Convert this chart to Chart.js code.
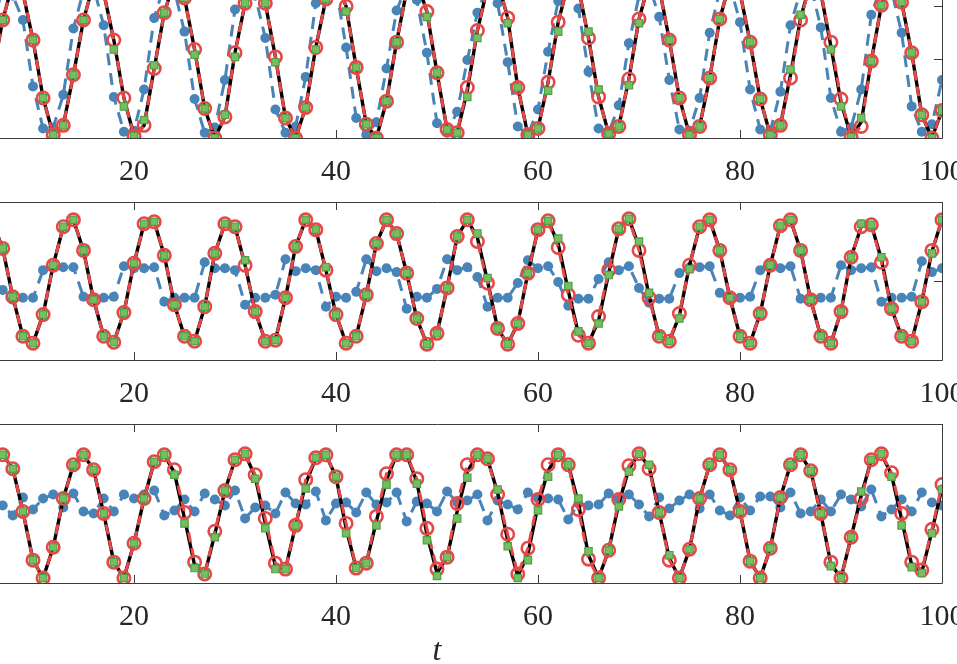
<!DOCTYPE html>
<html><head><meta charset="utf-8">
<script src="https://cdn.jsdelivr.net/npm/chart.js@4"></script>
<style>
html,body{margin:0;padding:0;width:957px;height:664px;overflow:hidden;background:#fff;}
body{position:relative;}
canvas{position:absolute;}
</style></head>
<body>
<canvas id="c1" width="1100" height="208" style="left:-68px;top:-20px"></canvas>
<canvas id="c2" width="1100" height="208" style="left:-68px;top:202px"></canvas>
<canvas id="c3" width="1100" height="240" style="left:-68px;top:424px"></canvas>
<script>
// time samples start at t = 6 and step by 1 up to t = 100
const tStart = 6;
const xTickValues = [20, 40, 60, 80, 100];
const xLabel = 't';

// ---- panel 1 ----
const p1Black = [-1.5,3.7,7.2,6.3,1.8,-3.7,-7.2,-6.3,-1.5,3.7,
 7.2,6.3,1.8,-3.7,-7.3,-6.3,-0.9,4.4,7.4,5.8,
 0.9,-4.7,-7.5,-5.5,0.6,5.3,7.5,5.3,0.2,-5.6,
 -7.5,-4.6,1.1,5.7,7.5,5.0,-0.8,-6.2,-7.5,-4.0,
 1.6,6.5,7.4,4.5,-1.3,-6.7,-7.0,-3.0,2.7,6.8,
 7.4,3.9,-2.7,-7.2,-6.6,-2.2,3.5,7.2,6.8,2.0,
 -3.6,-7.1,-6.4,-1.9,3.8,7.2,6.8,1.8,-3.7,-7.2,
 -6.4,-1.8,3.8,7.3,6.3,1.6,-3.8,-7.2,-6.3,-1.5,
 3.9,7.3,6.3,1.2,-4.1,-7.4,-6.0,-0.2,5.1,7.5,
 5.4,0.6,-5.3,-7.5,-4.9];
const p1Red = [-1.5,3.7,7.2,6.3,1.8,-3.7,-7.2,-6.3,-1.5,3.7,
 7.2,6.3,1.8,-3.7,-7.3,-6.3,-0.9,4.4,7.4,5.8,
 0.9,-4.7,-7.5,-5.5,0.6,5.3,7.5,5.3,0.2,-5.6,
 -7.5,-4.6,1.1,5.7,7.5,5.0,-0.8,-6.2,-7.5,-4.0,
 1.6,6.5,7.4,4.5,-1.3,-6.7,-7.0,-2.7,2.7,6.8,
 7.4,3.9,-2.7,-7.2,-6.6,-2.2,3.5,7.2,6.8,2.0,
 -3.6,-7.1,-6.4,-1.9,3.8,7.2,6.8,1.8,-3.7,-7.2,
 -6.4,-1.8,3.8,7.3,6.3,1.6,-3.8,-7.2,-6.3,-1.8,
 3.7,7.3,6.3,1.6,-3.8,-7.4,-6.4,-0.2,5.1,7.5,
 5.4,0.6,-5.3,-7.5,-4.9];
const p1Green = [-1.5,3.7,7.2,6.3,1.8,-3.7,-7.2,-6.3,-1.5,3.7,
 7.2,6.3,0.9,-4.5,-7.3,-5.8,-0.6,4.4,7.4,5.8,
 0.4,-4.7,-7.5,-5.3,0.2,5.3,7.5,5.3,-0.3,-5.6,
 -7.5,-4.6,0.9,5.7,7.5,4.5,-0.8,-6.2,-7.5,-4.0,
 1.6,6.5,7.4,4.0,-1.3,-6.7,-7.0,-3.6,2.0,6.8,
 7.4,3.4,-2.7,-7.2,-6.6,-3.0,2.6,7.2,6.8,2.6,
 -2.9,-7.1,-6.4,-2.5,3.4,7.2,6.8,1.8,-3.7,-7.2,
 -6.4,-1.8,3.8,7.3,6.3,1.6,-3.8,-7.2,-6.3,-1.0,
 4.2,7.3,6.3,0.9,-4.5,-7.4,-5.6,-0.2,5.1,7.5,
 5.4,0.6,-5.3,-7.5,-4.9];
const p1Blue = [3.0,6.8,6.0,3.7,-2.6,-6.6,-6.5,-3.4,2.9,6.5,
 6.8,3.2,-3.6,-6.9,-6.8,-2.9,3.9,7.0,6.5,2.6,
 -3.8,-7.0,-6.5,-2.0,4.7,7.0,6.0,2.0,-4.8,-7.0,
 -6.4,-1.7,5.3,7.2,6.8,1.1,-5.6,-7.2,-6.0,-0.9,
 4.6,7.0,5.6,0.6,-6.1,-7.0,-5.0,-0.1,4.4,7.0,
 5.3,-0.3,-6.4,-7.2,-4.8,0.7,5.5,7.2,4.8,-1.2,
 -6.6,-7.0,-4.4,1.5,6.0,7.0,4.0,-2.0,-6.7,-6.8,
 -3.7,2.5,6.5,7.0,3.5,-2.9,-6.7,-6.8,-3.1,3.2,
 6.5,7.0,3.0,-3.7,-6.9,-6.5,-2.9,4.2,7.0,6.5,
 2.5,-4.5,-6.9,-6.2,-2.0];
const p1YTicks = [-5, 0, 5];

// ---- panel 2 ----
const p2Black = [6.0,3.3,-1.6,-5.6,-6.3,-3.4,1.6,5.5,6.2,3.1,
 -1.9,-5.6,-6.2,-3.2,1.8,5.8,6.0,2.6,-2.4,-5.6,
 -6.1,-2.6,2.8,5.8,5.5,1.6,-3.1,-6.1,-6.0,-1.7,
 3.5,6.2,5.2,1.1,-3.4,-6.3,-5.6,-1.4,3.8,6.2,
 4.8,0.8,-3.8,-6.4,-5.3,-0.7,4.5,6.2,4.4,0.0,
 -4.8,-6.4,-4.3,0.8,5.2,6.1,3.8,-1.0,-5.3,-6.3,
 -4.0,0.8,5.3,6.3,3.5,-1.5,-5.6,-6.1,-3.5,1.6,
 5.5,6.2,3.1,-1.7,-5.6,-6.3,-3.3,1.6,5.6,6.2,
 3.1,-1.9,-5.6,-6.3,-3.1,2.4,5.5,5.7,2.2,-2.8,
 -5.6,-6.1,-2.1,3.0,6.2];
const p2Red = [6.0,3.3,-1.6,-5.6,-6.3,-3.4,1.6,5.5,6.2,3.1,
 -1.9,-5.6,-6.2,-3.2,1.8,5.8,6.0,2.6,-2.4,-5.6,
 -6.1,-2.6,2.8,5.8,5.5,1.6,-3.1,-6.1,-6.0,-1.7,
 3.5,6.2,5.2,1.1,-3.4,-6.3,-5.6,-1.4,3.8,6.2,
 4.8,0.8,-3.8,-6.4,-5.3,-0.7,4.5,6.2,4.0,-0.2,
 -4.8,-6.4,-4.3,0.8,5.2,6.1,3.4,-1.4,-5.5,-6.3,
 -3.6,1.1,5.3,6.3,3.1,-1.7,-5.6,-6.1,-3.3,1.6,
 5.5,6.2,3.1,-1.7,-5.6,-6.3,-3.3,1.6,5.6,6.2,
 3.1,-1.9,-5.6,-6.3,-3.1,2.4,5.5,5.7,1.9,-2.8,
 -5.6,-6.1,-2.1,3.1,6.2];
const p2Green = [6.0,3.3,-1.6,-5.6,-6.3,-3.4,1.6,5.5,6.2,3.1,
 -1.9,-5.6,-6.2,-3.2,1.8,5.8,6.0,2.6,-2.4,-5.6,
 -6.1,-2.6,2.8,5.8,5.5,2.1,-3.1,-6.1,-6.0,-1.7,
 3.5,6.2,5.2,1.4,-3.4,-6.3,-5.6,-1.4,3.8,6.2,
 4.8,0.8,-3.8,-6.4,-5.3,-0.7,4.5,6.2,4.8,0.3,
 -4.8,-6.4,-4.3,0.8,5.2,6.1,4.3,-0.5,-5.1,-6.3,
 -4.3,0.6,5.3,6.3,4.0,-1.2,-5.6,-6.1,-3.8,1.2,
 5.5,6.2,3.1,-1.7,-5.6,-6.3,-3.3,1.6,5.6,6.2,
 3.1,-1.9,-5.6,-6.3,-3.1,2.4,5.8,5.7,2.4,-2.8,
 -5.6,-6.1,-2.1,2.8,6.2];
const p2Blue = [-1.0,-0.9,-1.9,-1.7,-1.7,1.1,1.4,1.4,1.4,-1.6,
 -1.7,-1.7,-1.6,1.5,1.3,1.3,1.4,-2.1,-1.7,-1.7,
 -1.7,1.9,1.3,1.3,1.1,-2.4,-1.7,-1.7,-1.4,2.2,
 1.0,1.3,1.1,-2.6,-1.6,-1.7,-1.1,2.2,1.0,1.3,
 0.9,-2.8,-1.6,-1.7,-0.8,2.2,1.1,1.4,0.4,-2.6,
 -1.7,-1.7,-0.2,2.1,1.3,1.5,-0.1,-2.5,-1.8,-1.8,
 0.2,1.9,1.1,1.5,-0.7,-2.2,-1.8,-1.8,0.8,1.4,
 1.4,1.5,-1.2,-1.7,-1.7,-1.6,1.1,1.6,1.3,1.5,
 -1.8,-1.7,-1.7,-1.7,1.6,1.1,1.3,1.4,-2.1,-1.7,
 -1.7,-1.6,2.0,0.9,1.3];
const p2YTicks = [0];

// ---- panel 3 ----
const p3Black = [3.8,4.9,3.5,-0.8,-5.7,-7.5,-4.4,0.5,3.9,4.9,
 3.4,-1.0,-5.9,-7.5,-4.0,0.5,4.2,4.9,3.1,-1.5,
 -6.2,-7.1,-3.1,1.3,4.4,5.0,2.7,-2.0,-6.3,-6.6,
 -2.2,2.0,4.6,4.9,2.7,-2.5,-6.5,-6.0,-1.8,2.4,
 4.9,4.9,2.2,-3.1,-7.0,-5.4,-0.8,3.2,4.9,4.5,
 1.1,-3.7,-7.3,-5.1,-0.2,3.3,4.9,3.9,0.0,-5.2,
 -7.5,-4.7,0.0,3.5,5.0,3.7,-0.9,-5.5,-7.5,-4.6,
 0.5,3.9,4.9,3.4,-0.8,-5.8,-7.5,-4.5,0.6,3.9,
 4.9,3.3,-1.0,-6.1,-7.5,-3.4,0.8,4.4,5.0,2.9,
 -1.6,-6.2,-6.9,-2.8,1.6];
const p3Red = [3.8,4.9,3.5,-0.8,-5.7,-7.5,-4.4,0.5,3.9,4.9,
 3.4,-1.0,-5.9,-7.5,-4.0,0.5,4.2,4.9,3.4,-0.9,
 -5.9,-7.1,-2.8,1.3,4.4,5.0,2.9,-1.5,-6.0,-6.6,
 -2.2,2.4,4.6,4.9,2.7,-2.0,-6.5,-6.0,-1.3,3.0,
 4.9,4.9,2.5,-2.5,-6.6,-5.4,0.0,3.9,4.9,4.5,
 0.9,-3.1,-7.1,-4.5,0.4,3.9,4.9,3.9,-0.6,-5.6,
 -7.5,-4.7,0.4,3.8,5.0,3.5,-0.9,-5.7,-7.5,-4.6,
 0.5,3.9,4.9,3.4,-0.8,-5.8,-7.5,-4.5,0.6,3.9,
 4.9,3.3,-1.0,-5.9,-7.5,-3.4,0.5,4.4,5.0,3.1,
 -1.0,-5.9,-6.7,-2.6,1.9];
const p3Green = [3.8,4.9,3.5,-0.8,-5.7,-7.5,-4.4,0.5,3.9,4.9,
 3.4,-1.0,-5.9,-7.5,-4.0,0.5,4.2,4.9,2.9,-2.0,
 -6.5,-7.1,-3.4,1.3,4.4,5.0,2.5,-2.5,-6.6,-6.6,
 -2.2,1.5,4.6,4.9,2.7,-3.0,-6.5,-6.0,-2.2,1.9,
 4.9,4.9,2.0,-3.7,-7.3,-5.4,-1.5,2.6,4.9,4.5,
 1.4,-4.3,-7.5,-5.7,-0.7,2.7,4.9,3.9,0.5,-4.8,
 -7.5,-4.7,-0.3,3.2,5.0,3.9,-0.9,-5.2,-7.5,-4.6,
 0.5,3.9,4.9,3.4,-0.8,-5.8,-7.5,-4.5,0.6,3.9,
 4.9,3.3,-1.0,-6.3,-7.5,-3.4,1.2,4.4,5.0,2.7,
 -2.2,-6.4,-7.0,-3.0,1.4];
const p3Blue = [0.5,-0.2,-1.2,0.6,-0.6,0.5,0.9,-0.4,1.0,-0.8,
 -1.0,0.5,-0.8,0.9,0.5,0.9,1.3,-1.2,-0.7,0.4,
 -0.8,1.0,0.4,-0.2,1.3,-1.5,-0.4,-0.2,-1.0,1.1,
 0.0,-0.1,1.2,-1.7,0.0,0.1,-0.9,1.1,-0.1,0.1,
 1.1,-1.8,0.2,0.0,-0.8,1.2,0.1,0.3,0.9,-1.7,
 0.3,-0.1,-0.6,1.1,0.5,0.5,0.4,-1.6,0.0,-0.2,
 -0.1,1.0,0.4,0.9,-0.1,-1.3,0.6,-0.5,0.3,0.9,
 -0.5,0.9,-0.7,-1.2,0.6,-0.7,0.7,0.7,-0.4,1.1,
 -1.0,-0.8,0.4,-0.8,0.9,0.4,-0.3,1.4,-1.3,-0.6,
 0.4,-0.8,1.1,0.1,-0.2];
const p3YTicks = [];

const BLACK = '#000000';
const RED = 'rgb(228,72,72)';
const GREEN = 'rgb(118,190,98)';
const GREEN_EDGE = 'rgb(82,160,70)';
const BLUE = 'rgb(72,132,184)';
const AXIS = '#3c3c3c';

function pts(arr) { return arr.map((v, i) => ({ x: tStart + i, y: v })); }

const boxPlugin = {
  id: 'box',
  beforeDatasetsDraw(chart, args, opts) {
    const { ctx, chartArea } = chart;
    const { left, right, top, bottom } = chartArea;
    const xs = chart.scales.x, ys = chart.scales.y;
    ctx.save();
    ctx.strokeStyle = AXIS;
    ctx.lineWidth = 1;
    ctx.beginPath();
    ctx.rect(Math.round(left) + 0.5, Math.round(top) + 0.5, Math.round(right - left), Math.round(bottom - top));
    const tl = 8;
    xTickValues.forEach(v => {
      const px = Math.round(xs.getPixelForValue(v)) + 0.5;
      ctx.moveTo(px, bottom); ctx.lineTo(px, bottom - tl);
      ctx.moveTo(px, top); ctx.lineTo(px, top + tl);
    });
    (opts.yTicks || []).forEach(v => {
      const py = Math.round(ys.getPixelForValue(v)) + 0.5;
      ctx.moveTo(left, py); ctx.lineTo(left + tl, py);
      ctx.moveTo(right, py); ctx.lineTo(right - tl, py);
    });
    ctx.stroke();
    ctx.restore();
  }
};

function makeChart(id, black, red, green, blue, yMin, yMax, yTicks, axisH, withTitle) {
  new Chart(document.getElementById(id), {
    type: 'line',
    data: {
      datasets: [
        { data: pts(green), order: 1, showLine: false, pointStyle: 'rect', pointRadius: 5.2,
          pointBackgroundColor: GREEN, pointBorderColor: GREEN_EDGE, pointBorderWidth: 1.2 },
        { data: pts(red), order: 2, borderColor: RED, borderWidth: 3, borderDash: [10, 6],
          pointStyle: 'circle', pointRadius: 6.2, pointBorderColor: RED, pointBorderWidth: 2.6,
          pointBackgroundColor: 'rgba(0,0,0,0)' },
        { data: pts(black), order: 3, borderColor: BLACK, borderWidth: 3.4, pointRadius: 0 },
        { data: pts(blue), order: 4, borderColor: BLUE, borderWidth: 3, borderDash: [12, 8],
          pointStyle: 'circle', pointRadius: 5, pointBackgroundColor: BLUE, pointBorderColor: BLUE,
          pointBorderWidth: 0 }
      ]
    },
    options: {
      responsive: false, animation: false, events: [],
      layout: { autoPadding: false, padding: { left: 0, right: 90, top: 0, bottom: 0 } },
      elements: { line: { tension: 0 } },
      plugins: { legend: { display: false }, tooltip: { enabled: false }, box: { yTicks: yTicks } },
      scales: {
        x: {
          type: 'linear', min: 0, max: 100,
          grid: { display: false }, border: { display: false },
          afterBuildTicks: s => { s.ticks = xTickValues.map(v => ({ value: v })); },
          afterFit: s => { s.height = axisH; s.paddingLeft = 0; s.paddingRight = 0; },
          ticks: { padding: 8, color: '#262626', autoSkip: false, maxRotation: 0,
                   font: { family: 'Liberation Serif', size: 30 }, callback: v => String(v) },
          title: withTitle ? { display: true, text: xLabel, color: '#262626', padding: 0,
                   font: { family: 'Liberation Serif', size: 32, style: 'italic', lineHeight: 0.8 } }
                 : { display: false }
        },
        y: { type: 'linear', min: yMin, max: yMax, display: false }
      }
    },
    plugins: [boxPlugin]
  });
}

makeChart('c1', p1Black, p1Red, p1Green, p1Blue, -7.5, 7.5, p1YTicks, 50, false);
makeChart('c2', p2Black, p2Red, p2Green, p2Blue, -8, 8, p2YTicks, 50, false);
makeChart('c3', p3Black, p3Red, p3Green, p3Blue, -8, 8, p3YTicks, 81, true);
</script>
</body></html>
